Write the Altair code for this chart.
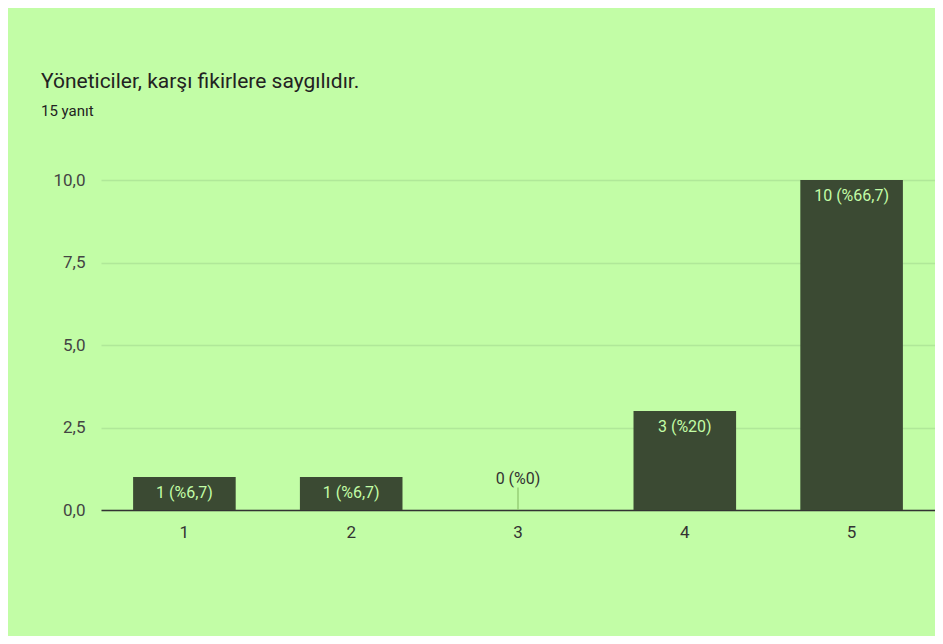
import altair as alt
import pandas as pd

categories = ["1", "2", "3", "4", "5"]
counts = [1, 1, 0, 3, 10]
labels = ["1 (%6,7)", "1 (%6,7)", "0 (%0)", "3 (%20)", "10 (%66,7)"]
y_ticks = [0, 2.5, 5, 7.5, 10]

title_text = "Yöneticiler, karşı fikirlere saygılıdır."
subtitle_text = "15 yanıt"

df = pd.DataFrame({"cat": categories, "count": counts, "label": labels})

FONT = "Roboto"
BG = "#c2fda6"
BAR = "#3b4a33"

x_enc = alt.X(
    "cat:N",
    sort=categories,
    scale=alt.Scale(paddingInner=0.385, paddingOuter=0.1925),
    axis=alt.Axis(
        title=None, labelAngle=0, ticks=False, domain=True,
        domainColor="#333333", domainWidth=1.5,
        labelFontSize=17, labelColor="#333333", labelFont=FONT,
        labelPadding=14, grid=False,
    ),
)
y_scale = alt.Scale(domain=[0, 10], nice=False)
y_axis = alt.Axis(
    title=None, values=y_ticks, ticks=False, domain=False,
    labelExpr="replace(format(datum.value, '.1f'), '.', ',')",
    labelFontSize=17, labelColor="#444444", labelFont=FONT,
    labelPadding=16, grid=True, gridColor="#b0e899", gridWidth=1.5,
)

base = alt.Chart(df)

bars = base.mark_bar(color=BAR).encode(
    x=x_enc,
    y=alt.Y("count:Q", scale=y_scale, axis=y_axis),
)

inner = base.transform_filter("datum.count > 0").mark_text(
    baseline="middle", dy=16, fontSize=16, font=FONT, color="#c2fda6"
).encode(
    x=alt.X("cat:N", sort=categories),
    y=alt.Y("count:Q", scale=y_scale),
    text="label:N",
)

zero = base.transform_filter("datum.count == 0").transform_calculate(
    lead="datum.count + 0.68"
)

leader = zero.mark_rule(color="#8cc46c", strokeWidth=1.2).encode(
    x=alt.X("cat:N", sort=categories),
    y=alt.Y("count:Q", scale=y_scale),
    y2="lead:Q",
)

zero_text = zero.mark_text(
    baseline="bottom", dy=-1, fontSize=16, font=FONT, color="#333333"
).encode(
    x=alt.X("cat:N", sort=categories),
    y=alt.Y("lead:Q", scale=y_scale),
    text="label:N",
)

chart = alt.layer(bars, inner, leader, zero_text).properties(
    width=834,
    height=330,
    background=BG,
    padding={"left": 93, "top": 172, "right": 0, "bottom": 126},
    autosize=alt.AutoSizeParams(type="none"),
    title=alt.TitleParams(
        text=title_text,
        subtitle=subtitle_text,
        anchor="start",
        frame="group",
        dx=-60,
        offset=52,
        font=FONT,
        fontSize=21,
        fontWeight="normal",
        color="#222222",
        subtitleFont=FONT,
        subtitleFontSize=15,
        subtitleColor="#222222",
        subtitlePadding=12,
    ),
).configure_view(stroke=None)

chart.save("out.html", embed_options={"renderer": "svg", "actions": False})
